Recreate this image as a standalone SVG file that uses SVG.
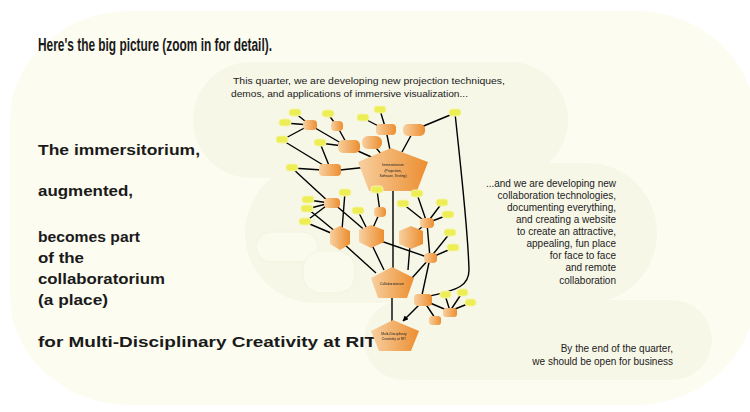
<svg xmlns="http://www.w3.org/2000/svg" width="750" height="412" viewBox="0 0 750 412">
<style>
.bg{fill:#fcfcf1}
.rg{fill:#f7f7e8}
.pl{fill:#fafaed;stroke:#f3f3e0;stroke-width:1}
.t{font-family:"Liberation Sans",Arial,sans-serif;fill:#1a1a1a}
.b{font-weight:bold}
.s{font-size:9px;fill:#222}
.r{font-size:10px;fill:#222}
.e{fill:none;stroke:#000;stroke-width:1.4}
.y{fill:#eded55;stroke:#f4f4a8;stroke-width:1}
.o{fill:url(#og)}
.n{font-family:"Liberation Sans",Arial,sans-serif;font-size:3.4px;fill:#222;text-anchor:middle}
</style>
<defs>
<linearGradient id="og" x1="0" y1="0" x2="1" y2="0">
<stop offset="0" stop-color="#f8d0a0"/>
<stop offset="1" stop-color="#ec8e30"/>
</linearGradient>
<filter id="soft" x="-20%" y="-20%" width="140%" height="140%"><feGaussianBlur stdDeviation="0.6"/></filter>
<marker id="ar" viewBox="0 0 10 10" refX="9" refY="5" markerWidth="4" markerHeight="4" orient="auto"><path d="M0,0L10,5L0,10z" fill="#000"/></marker>
</defs>

<g id="regions">
<rect class="bg" x="10" y="11" width="745" height="394" rx="120" ry="110"/>
<rect class="rg" x="193" y="62" width="375" height="116" rx="58"/>
<rect class="rg" x="245" y="163" width="412" height="140" rx="70"/>
<rect class="rg" x="364" y="300" width="348" height="80" rx="40"/>
<rect class="pl" x="256" y="232" width="62" height="30" rx="15"/>
<rect class="pl" x="303" y="251" width="52" height="42" rx="18"/>
</g>

<g id="texts">
<text class="t b" x="38" y="51" font-size="17.5" textLength="234" lengthAdjust="spacingAndGlyphs">Here's  the big picture (zoom in for detail).</text>
<text class="t s" x="233" y="84" textLength="272" lengthAdjust="spacingAndGlyphs">This quarter, we are developing new projection techniques,</text>
<text class="t s" x="231" y="97" textLength="237" lengthAdjust="spacingAndGlyphs">demos, and applications of immersive visualization...</text>
<g class="t b" font-size="15.5">
<text x="38" y="155" textLength="162" lengthAdjust="spacingAndGlyphs">The immersitorium,</text>
<text x="38" y="196" textLength="95" lengthAdjust="spacingAndGlyphs">augmented,</text>
<text x="38" y="242" textLength="102" lengthAdjust="spacingAndGlyphs">becomes part</text>
<text x="38" y="263" textLength="46" lengthAdjust="spacingAndGlyphs">of the</text>
<text x="38" y="284" textLength="127" lengthAdjust="spacingAndGlyphs">collaboratorium</text>
<text x="38" y="305" textLength="70" lengthAdjust="spacingAndGlyphs">(a place)</text>
<text x="38" y="347" textLength="338" lengthAdjust="spacingAndGlyphs">for Multi-Disciplinary Creativity at RIT</text>
</g>
<g class="t r" text-anchor="end">
<text x="616" y="187">...and we are developing new</text>
<text x="616" y="199">collaboration technologies,</text>
<text x="616" y="211">documenting everything,</text>
<text x="616" y="223">and creating a website</text>
<text x="616" y="235">to create an attractive,</text>
<text x="616" y="247">appealing, fun  place</text>
<text x="616" y="259">for face to face</text>
<text x="616" y="271">and remote</text>
<text x="616" y="284">collaboration</text>
<text x="673" y="352">By the end of the quarter,</text>
<text x="673" y="365">we should be open for business</text>
</g>
</g>

<g id="connectors">
<path class="e" d="M295,113L310,125M285,123L310,125M282,140L310,125M310,125L346,146M328,114L337,126M337,126L347,144"/>
<path class="e" d="M320,143L343,146" marker-end="url(#ar)"/>
<path class="e" d="M320,143L330,168M282,140L328,168M292,168L322,170"/>
<path class="e" d="M340,170L368,167" marker-end="url(#ar)"/>
<path class="e" d="M349,147L378,160M372,143L382,155M380,110L386,130M363,118L386,130M386,130L390,150M414,130L402,152M455,113L414,130"/>
<path class="e" d="M455,113C462,180 468,230 469,270C469,285 460,290 425,297"/>
<path class="e" d="M292,168L330,203M308,200L330,203M307,209L330,203M305,222L330,203M305,222L338,236M308,209L336,232M345,192L342,230M333,203L368,233M358,211L368,231M377,190L380,212L372,230"/>
<path class="e" d="M403,186L417,194L427,223M403,204L427,223M442,203L427,223M448,215L427,223M427,223L412,235M427,223L430,258M450,233L430,258M453,248L430,258M372,238L430,258"/>
<path class="e" d="M393,191L393,268M345,245L376,273M372,245L384,270M410,245L408,270M430,258L412,278M430,258L422,295"/>
<path class="e" d="M392,297L392,321"/>
<path class="e" d="M420,304L403,321" marker-end="url(#ar)"/>
<path class="e" d="M423,300L435,318M423,300L449,311M445,295L450,311M462,293L450,311M470,303L450,311"/>
</g>

<g id="nodes" filter="url(#soft)">
<g id="y1"><rect class="y" x="289" y="109" width="12" height="7" rx="3"/></g>
<g id="y2"><rect class="y" x="322" y="110" width="12" height="7" rx="3"/></g>
<g id="y3"><rect class="y" x="279" y="119" width="12" height="7" rx="3"/></g>
<g id="y4"><rect class="y" x="276" y="136" width="12" height="7" rx="3"/></g>
<g id="y5"><rect class="y" x="314" y="139" width="12" height="7" rx="3"/></g>
<g id="y6"><rect class="y" x="286" y="164" width="12" height="7" rx="3"/></g>
<g id="y7"><rect class="y" x="374" y="106" width="12" height="7" rx="3"/></g>
<g id="y8"><rect class="y" x="357" y="114" width="12" height="7" rx="3"/></g>
<g id="y9"><rect class="y" x="449" y="109" width="12" height="7" rx="3"/></g>
<g id="o1"><rect class="o" x="303" y="120" width="14" height="10" rx="4"/></g>
<g id="o2"><rect class="o" x="331" y="121" width="12" height="10" rx="4"/></g>
<g id="o3"><rect class="o" x="338" y="140" width="22" height="13" rx="5"/></g>
<g id="o4"><rect class="o" x="362" y="136" width="20" height="13" rx="6"/></g>
<g id="o5"><rect class="o" x="319" y="164" width="22" height="12" rx="4"/></g>
<g id="o6"><rect class="o" x="376" y="124" width="20" height="11" rx="4"/></g>
<g id="o7"><rect class="o" x="403" y="124" width="22" height="12" rx="5"/></g>
<g id="immersitorium"><polygon class="o" points="391,148 428,162 417,191 369,191 358,162"/>
<text class="n" x="393" y="166">Immersitorium</text><text class="n" x="393" y="172">(Projection,</text><text class="n" x="393" y="177">Software, Testing)</text></g>
<g id="m-y1"><rect class="y" x="302" y="196" width="12" height="7" rx="3"/></g>
<g id="m-y2"><rect class="y" x="301" y="205" width="12" height="7" rx="3"/></g>
<g id="m-y3"><rect class="y" x="299" y="218" width="12" height="7" rx="3"/></g>
<g id="m-y4"><rect class="y" x="339" y="189" width="12" height="7" rx="3"/></g>
<g id="m-y5"><rect class="y" x="352" y="207" width="12" height="7" rx="3"/></g>
<g id="m-y6"><rect class="y" x="371" y="186" width="12" height="7" rx="3"/></g>
<g id="m-y7"><rect class="y" x="411" y="190" width="12" height="7" rx="3"/></g>
<g id="m-y8"><rect class="y" x="397" y="200" width="12" height="7" rx="3"/></g>
<g id="m-y9"><rect class="y" x="436" y="199" width="12" height="7" rx="3"/></g>
<g id="m-y10"><rect class="y" x="442" y="211" width="12" height="7" rx="3"/></g>
<g id="m-y11"><rect class="y" x="444" y="229" width="12" height="7" rx="3"/></g>
<g id="m-y12"><rect class="y" x="447" y="244" width="12" height="7" rx="3"/></g>
<g id="m-o1"><rect class="o" x="324" y="198" width="16" height="10" rx="4"/></g>
<g id="m-o2"><polygon class="o" points="340,226 350,231 350,244 340,250 330,244 330,231"/></g>
<g id="m-o3"><polygon class="o" points="371,225 384,230 384,242 371,248 359,242 359,230"/></g>
<g id="m-o4"><rect class="o" x="374" y="207" width="12" height="10" rx="4"/></g>
<g id="m-o5"><polygon class="o" points="411,226 423,231 423,244 411,249 399,244 399,231"/></g>
<g id="m-o6"><rect class="o" x="420" y="218" width="14" height="10" rx="4"/></g>
<g id="m-o7"><rect class="o" x="424" y="253" width="13" height="10" rx="4"/></g>
<g id="collaboratorium"><polygon class="o" points="392,267 414,278 407,298 378,298 371,278"/>
<text class="n" x="392" y="285">Collaboratorium</text></g>
<g id="x1"><rect class="o" x="414" y="294" width="18" height="12" rx="4"/></g>
<g id="x2"><rect class="o" x="429" y="316" width="12" height="9" rx="3"/></g>
<g id="x3"><rect class="o" x="443" y="308" width="14" height="9" rx="3"/></g>
<g id="x-y1"><rect class="y" x="440" y="291" width="11" height="7" rx="3"/></g>
<g id="x-y2"><rect class="y" x="457" y="289" width="11" height="7" rx="3"/></g>
<g id="x-y3"><rect class="y" x="465" y="299" width="11" height="7" rx="3"/></g>
<g id="multidisciplinary"><polygon class="o" points="393,320 419,331 411,351 379,351 371,331"/>
<text class="n" x="394" y="335">Multi-Disciplinary</text><text class="n" x="394" y="340">Creativity at RIT</text></g>
</g>
</svg>
